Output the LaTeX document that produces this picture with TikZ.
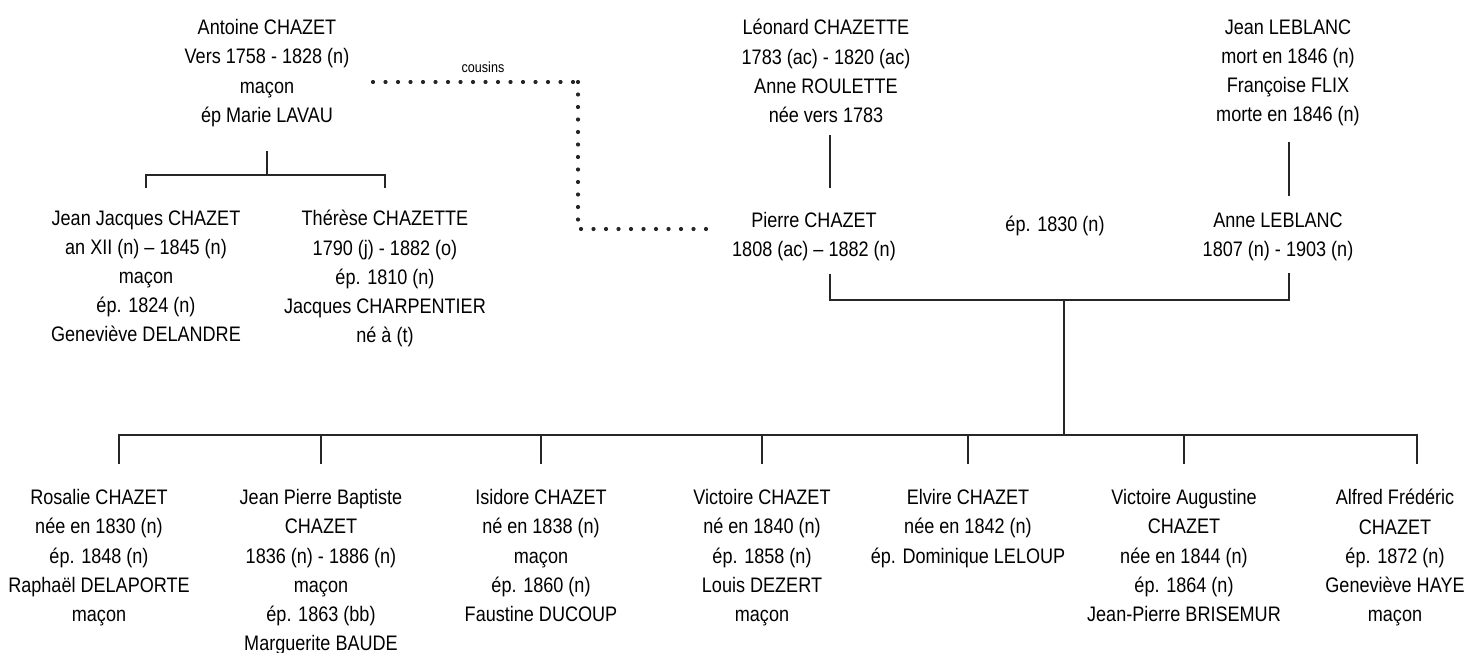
\documentclass[tikz,border=0pt]{standalone}
\usepackage{fontspec}
\setmainfont[FakeStretch=0.86]{Liberation Sans}
\usetikzlibrary{positioning}
\definecolor{tieline}{HTML}{262626}

\begin{document}
\begin{tikzpicture}[
    x=0.5pt, y=-0.5pt,
    every node/.style={font=\fontsize{10.5}{14.6}\selectfont},
    person/.style={align=center, inner sep=0pt, anchor=north},
    tie/.style={line width=1.1pt, draw=tieline},
    kin/.style={line width=2.1pt, draw=tieline, line cap=round, dash pattern=on 0pt off 6.25pt},
]
\useasboundingbox (0,0) rectangle (1468,653);

% Top generation
\node[person] (antoine) at (267,19)
    {Antoine CHAZET\\Vers 1758 - 1828 (n)\\maçon\\ép Marie LAVAU};
\node[person] (leonard) at (826,19)
    {Léonard CHAZETTE\\1783 (ac) - 1820 (ac)\\Anne ROULETTE\\née vers 1783};
\node[person] (leblanc) at (1288,19)
    {Jean LEBLANC\\mort en 1846 (n)\\Françoise FLIX\\morte en 1846 (n)};

% Antoine's children
\node[person] (jeanjacques) at (146,210)
    {Jean Jacques CHAZET\\an XII (n) – 1845 (n)\\maçon\\ép. 1824 (n)\\Geneviève DELANDRE};
\node[person] (therese) at (385,210)
    {Thérèse CHAZETTE\\1790 (j) - 1882 (o)\\ép. 1810 (n)\\Jacques CHARPENTIER\\né à (t)};

% The couple
\node[person] (pierre) at (814,212) {Pierre CHAZET\\1808 (ac) – 1882 (n)};
\node[person] (anne) at (1278,212) {Anne LEBLANC\\1807 (n) - 1903 (n)};
\node[person] (wedding) at (1055,216) {ép. 1830 (n)};

% Their children
\node[person] (rosalie) at (99,489)
    {Rosalie CHAZET\\née en 1830 (n)\\ép. 1848 (n)\\Raphaël DELAPORTE\\maçon};
\node[person] (jpb) at (321,489)
    {Jean Pierre Baptiste\\CHAZET\\1836 (n) - 1886 (n)\\maçon\\ép. 1863 (bb)\\Marguerite BAUDE};
\node[person] (isidore) at (541,489)
    {Isidore CHAZET\\né en 1838 (n)\\maçon\\ép. 1860 (n)\\Faustine DUCOUP};
\node[person] (victoire) at (762,489)
    {Victoire CHAZET\\né en 1840 (n)\\ép. 1858 (n)\\Louis DEZERT\\maçon};
\node[person] (elvire) at (968,489)
    {Elvire CHAZET\\née en 1842 (n)\\ép. Dominique LELOUP};
\node[person] (augustine) at (1184,489)
    {Victoire Augustine\\CHAZET\\née en 1844 (n)\\ép. 1864 (n)\\Jean-Pierre BRISEMUR};
\node[person] (alfred) at (1395,489)
    {Alfred Frédéric\\CHAZET\\ép. 1872 (n)\\Geneviève HAYE\\maçon};

% Cousins link
\coordinate (cousin-from) at (373,82);
\coordinate (cousin-bend) at (578,82);
\coordinate (cousin-to) at (718,229);
\node[font=\fontsize{7.3}{9}\selectfont] (cousins) at (483,67) {cousins};
\draw[kin] (cousin-from) -- (cousin-bend);
\draw[kin] (cousin-bend) |- (cousin-to);

% Fork points
\coordinate (fork-antoine) at (267,175);
\coordinate (union) at (1064,300);
\coordinate (sibs) at (1064,435);

% Antoine -> children
\draw[tie] ([yshift=-12pt]antoine.south) -- (fork-antoine);
\draw[tie] ([yshift=11pt]jeanjacques.north) |- (fork-antoine) -| ([yshift=11pt]therese.north);

% Parents -> couple
\draw[tie] ([xshift=2pt,yshift=-6pt]leonard.south) -- ([xshift=8pt,yshift=12pt]pierre.north);
\draw[tie] ([xshift=0.5pt,yshift=-8pt]leblanc.south) -- ([xshift=0.5pt,yshift=8pt]anne.north -| leblanc.south);

% Marriage line
\draw[tie] ([xshift=8pt,yshift=-6pt]pierre.south) |- (union) -| ([xshift=0.5pt,yshift=-6pt]anne.south -| leblanc.south);
\draw[tie] (union) -- (sibs);

% Couple -> children
\draw[tie] ([xshift=10pt,yshift=12.5pt]rosalie.north) |- (sibs) -| ([xshift=11pt,yshift=12.5pt]alfred.north);
\foreach \kid in {jpb, isidore, victoire, elvire, augustine}
    \draw[tie] ([yshift=12.5pt]\kid.north) -- (\kid.north |- sibs);

\end{tikzpicture}
\end{document}
